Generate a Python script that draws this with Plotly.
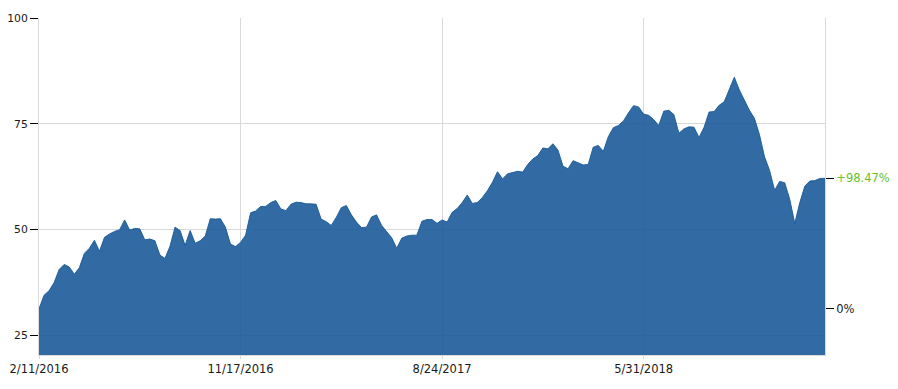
import pandas as pd
import plotly.graph_objects as go

start_date = "2016-02-11"
# weekly closing prices
prices = [
    31.3, 34.5, 35.6, 37.5, 40.6, 41.8, 41.2, 39.5, 41.0, 44.4,
    45.6, 47.5, 44.9, 48.2, 49.0, 49.6, 50.0, 52.3, 49.9, 50.3,
    50.2, 47.6, 47.8, 47.4, 44.0, 43.2, 46.1, 50.6, 49.8, 46.3,
    49.8, 46.8, 47.4, 48.5, 52.6, 52.5, 52.6, 50.6, 46.6, 46.0,
    47.0, 48.7, 54.0, 54.4, 55.5, 55.5, 56.4, 56.9, 54.9, 54.5,
    56.0, 56.5, 56.4, 56.1, 56.1, 56.0, 52.5, 51.9, 51.0, 52.9,
    55.2, 55.7, 53.5, 51.8, 50.5, 50.6, 53.0, 53.5, 51.0, 49.6,
    48.1, 45.6, 48.0, 48.5, 48.7, 48.7, 52.0, 52.4, 52.4, 51.5,
    52.3, 51.8, 54.1, 55.0, 56.4, 58.2, 56.2, 56.4, 57.6, 59.2,
    61.2, 63.7, 62.0, 63.2, 63.5, 63.8, 63.6, 65.4, 66.7, 67.5,
    69.3, 69.1, 70.3, 68.8, 65.0, 64.4, 66.3, 65.8, 65.3, 65.4,
    69.5, 69.9, 68.5, 72.0, 74.1, 74.6, 75.7, 77.6, 79.3, 79.0,
    77.3, 77.0, 76.0, 74.6, 78.0, 78.2, 77.2, 72.8, 73.8, 74.3,
    74.2, 71.8, 74.2, 77.8, 77.9, 79.4, 80.2, 83.1, 86.0, 83.0,
    80.6, 78.2, 76.3, 72.4, 67.2, 64.0, 59.3, 61.4, 61.1, 57.2,
    51.5, 56.4, 60.3, 61.5, 61.6, 62.1, 62.12,
]
dates = pd.date_range(start_date, periods=len(prices), freq="7D")

x_tick_dates = ["2016-02-11", "2016-11-17", "2017-08-24", "2018-05-31"]
x_tick_labels = ["2/11/2016", "11/17/2016", "8/24/2017", "5/31/2018"]
y_ticks = [25, 50, 75, 100]

first, last = prices[0], prices[-1]
pct = (last / first - 1) * 100
right_vals = [first, last]
right_text = ["0%", f"<span style='color:#66c22e'>+{pct:.2f}%</span>"]

font = dict(family="DejaVu Sans, Verdana, sans-serif", size=11.5, color="#1a1a1a")
yfont = dict(family="DejaVu Sans, Verdana, sans-serif", size=10.8, color="#1a1a1a")
y_range = [20.4, 100]

fig = go.Figure()
fig.add_trace(go.Scatter(
    x=dates, y=prices, mode="lines",
    line=dict(color="rgba(22,86,150,0.88)", width=1),
    fill="tozeroy", fillcolor="rgba(22,86,150,0.88)",
    hoverinfo="skip", showlegend=False,
))
# invisible trace for right axis
fig.add_trace(go.Scatter(x=[dates[0]], y=[first], yaxis="y2", mode="markers",
                         marker=dict(opacity=0), showlegend=False, hoverinfo="skip"))

fig.update_layout(
    width=882, height=373,
    margin=dict(l=31, r=65, t=10, b=26, autoexpand=False),
    paper_bgcolor="white", plot_bgcolor="white",
    font=font,
    xaxis=dict(
        type="date", range=[dates[0], dates[-1]],
        tickvals=x_tick_dates, ticktext=x_tick_labels,
        showgrid=True, gridcolor="#d9d9d9", gridwidth=1,
        showline=True, linecolor="#d9d9d9", linewidth=1,
        ticks="outside", ticklen=3, tickcolor="#d9d9d9",
        zeroline=False, tickfont=font, automargin=False,
    ),
    yaxis=dict(
        range=y_range, tickvals=y_ticks,
        showgrid=True, gridcolor="#d9d9d9", gridwidth=1,
        showline=True, linecolor="#d9d9d9", linewidth=1,
        ticks="outside", ticklen=8, tickcolor="#000000",
        zeroline=False, tickfont=yfont, automargin=False,
    ),
    yaxis2=dict(
        range=y_range, overlaying="y", side="right", anchor="x",
        tickvals=right_vals, ticktext=right_text,
        showgrid=False, showline=True, linecolor="#d9d9d9", linewidth=1,
        ticks="outside", ticklen=8, tickcolor="#000000",
        zeroline=False, tickfont=font, automargin=False,
    ),
)

fig.write_html("out.html")
